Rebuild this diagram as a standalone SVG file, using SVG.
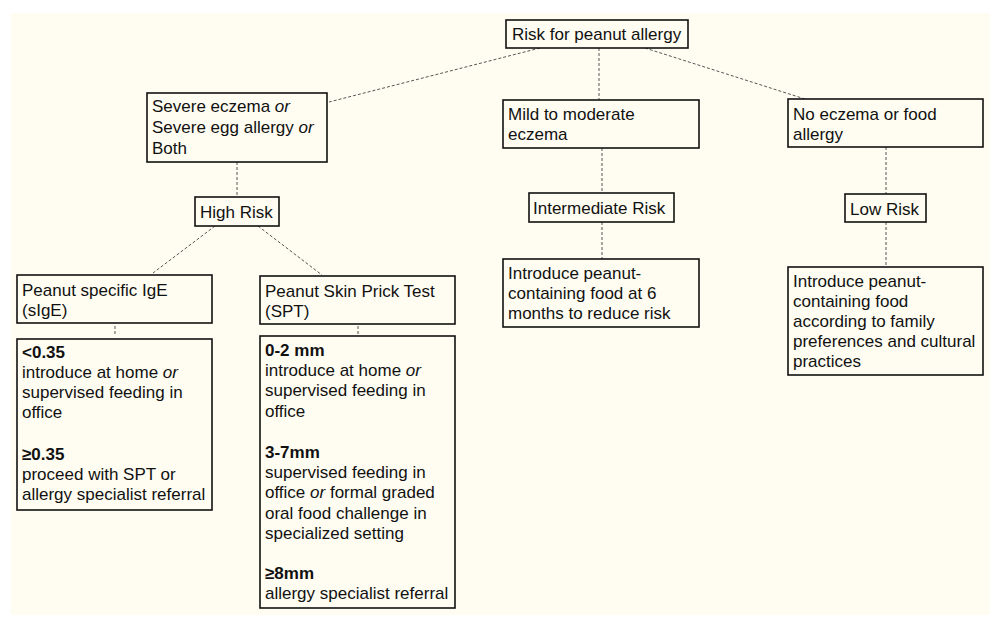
<svg xmlns="http://www.w3.org/2000/svg" width="1000" height="622" viewBox="0 0 1000 622">
<style>
.box{fill:#fffdf1;stroke:#111;stroke-width:1.6}
.t{font-family:"Liberation Sans",Arial,sans-serif;font-size:17px;fill:#111}
.b{font-weight:bold}
.i{font-style:italic}
.c{stroke:#555;stroke-width:1;stroke-dasharray:3 2;fill:none}
</style>
<rect x="0" y="0" width="1000" height="622" fill="#ffffff"/>
<rect x="11" y="13" width="979" height="602" fill="#fffdf1"/>
<g id="connectors">
<line class="c" x1="540" y1="48" x2="329" y2="102"/>
<line class="c" x1="599" y1="48" x2="599" y2="100"/>
<line class="c" x1="645" y1="48" x2="805" y2="99"/>
<line class="c" x1="237" y1="162" x2="237" y2="197"/>
<line class="c" x1="215" y1="226" x2="153" y2="273"/>
<line class="c" x1="258" y1="226" x2="322" y2="275"/>
<line class="c" x1="115" y1="326" x2="115" y2="336"/>
<line class="c" x1="358" y1="326" x2="358" y2="334"/>
<line class="c" x1="602" y1="148" x2="602" y2="193"/>
<line class="c" x1="602" y1="222" x2="602" y2="259"/>
<line class="c" x1="886" y1="147" x2="886" y2="194"/>
<line class="c" x1="886" y1="222" x2="886" y2="267"/>
</g>
<g id="root">
<rect class="box" x="506" y="20" width="182" height="28"/>
<text class="t" x="512" y="40">Risk for peanut allergy</text>
</g>
<g id="severe">
<rect class="box" x="147" y="93" width="180" height="69"/>
<text class="t" x="152" y="112">Severe eczema <tspan class="i">or</tspan></text>
<text class="t" x="152" y="133">Severe egg allergy <tspan class="i">or</tspan></text>
<text class="t" x="152" y="154">Both</text>
</g>
<g id="mild">
<rect class="box" x="503" y="100" width="196" height="48"/>
<text class="t" x="508" y="120">Mild to moderate</text>
<text class="t" x="508" y="140">eczema</text>
</g>
<g id="noeczema">
<rect class="box" x="788" y="99" width="195" height="48"/>
<text class="t" x="793" y="120">No eczema or food</text>
<text class="t" x="793" y="140">allergy</text>
</g>
<g id="highrisk">
<rect class="box" x="195" y="197" width="84" height="29"/>
<text class="t" x="200" y="218">High Risk</text>
</g>
<g id="intermediaterisk">
<rect class="box" x="529" y="193" width="145" height="29"/>
<text class="t" x="533" y="214">Intermediate Risk</text>
</g>
<g id="lowrisk">
<rect class="box" x="845" y="194" width="81" height="28"/>
<text class="t" x="850" y="215">Low Risk</text>
</g>
<g id="sige">
<rect class="box" x="17" y="275" width="195" height="48"/>
<text class="t" x="22" y="296">Peanut specific IgE</text>
<text class="t" x="22" y="316">(sIgE)</text>
</g>
<g id="spt">
<rect class="box" x="260" y="276" width="195" height="48"/>
<text class="t" x="265" y="297">Peanut Skin Prick Test</text>
<text class="t" x="265" y="317">(SPT)</text>
</g>
<g id="sige-result">
<rect class="box" x="17" y="339" width="195" height="171"/>
<text class="t b" x="22" y="358">&lt;0.35</text>
<text class="t" x="22" y="378">introduce at home <tspan class="i">or</tspan></text>
<text class="t" x="22" y="398">supervised feeding in</text>
<text class="t" x="22" y="418">office</text>
<text class="t b" x="22" y="460">≥0.35</text>
<text class="t" x="22" y="480">proceed with SPT or</text>
<text class="t" x="22" y="500">allergy specialist referral</text>
</g>
<g id="spt-result">
<rect class="box" x="260" y="336" width="195" height="272"/>
<text class="t b" x="265" y="356">0-2 mm</text>
<text class="t" x="265" y="376">introduce at home <tspan class="i">or</tspan></text>
<text class="t" x="265" y="396">supervised feeding in</text>
<text class="t" x="265" y="417">office</text>
<text class="t b" x="265" y="458">3-7mm</text>
<text class="t" x="265" y="478">supervised feeding in</text>
<text class="t" x="265" y="498">office <tspan class="i">or</tspan> formal graded</text>
<text class="t" x="265" y="519">oral food challenge in</text>
<text class="t" x="265" y="539">specialized setting</text>
<text class="t b" x="265" y="579">≥8mm</text>
<text class="t" x="265" y="599">allergy specialist referral</text>
</g>
<g id="intro-6mo">
<rect class="box" x="503" y="259" width="196" height="68"/>
<text class="t" x="508" y="279">Introduce peanut-</text>
<text class="t" x="508" y="299">containing food at 6</text>
<text class="t" x="508" y="319">months to reduce risk</text>
</g>
<g id="intro-family">
<rect class="box" x="788" y="267" width="195" height="108"/>
<text class="t" x="793" y="287">Introduce peanut-</text>
<text class="t" x="793" y="307">containing food</text>
<text class="t" x="793" y="327">according to family</text>
<text class="t" x="793" y="347">preferences and cultural</text>
<text class="t" x="793" y="367">practices</text>
</g>
</svg>
